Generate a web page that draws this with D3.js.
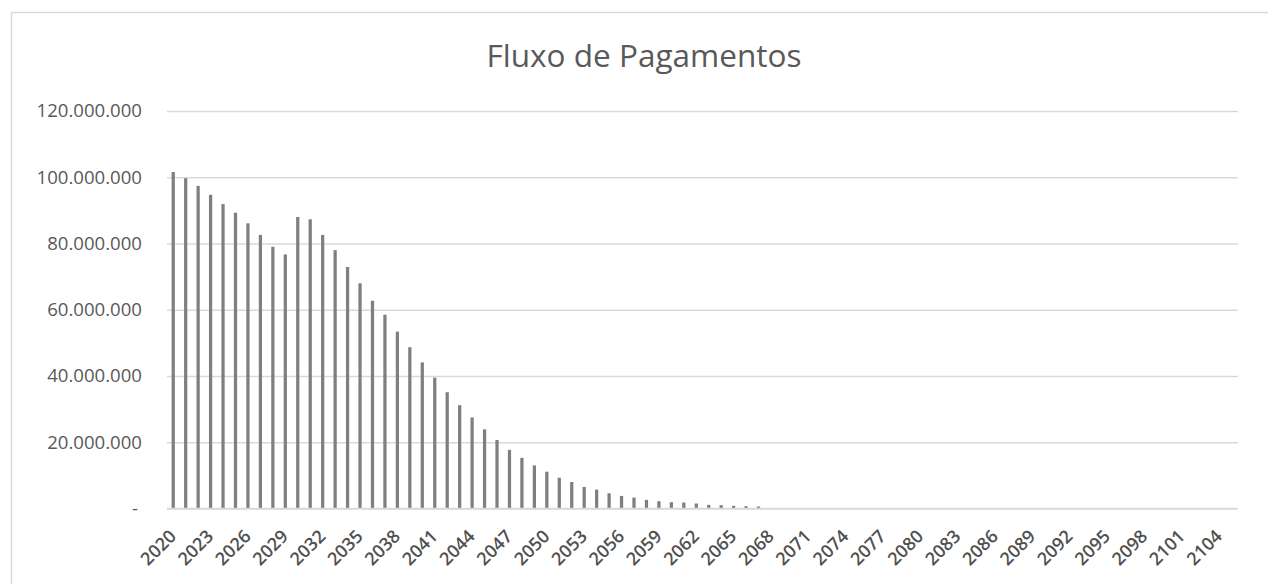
<!DOCTYPE html>
<html>
<head>
<meta charset="utf-8">
<script src="https://cdn.jsdelivr.net/npm/d3@7"></script>
<style>
  html, body { margin: 0; padding: 0; background: #fff; }
  svg { display: block; }
</style>
</head>
<body>
<svg id="chart" width="1268" height="584"></svg>
<script>
// ---- Data ----
const title = "Fluxo de Pagamentos";
const years = d3.range(2020, 2106).map(String); // 2020 … 2105
const payments = [
  101600000, 99700000, 97400000, 94700000, 91900000, 89300000, 86100000, 82600000, 79000000, 76700000, // 2020-2029
  88000000, 87300000, 82600000, 78000000, 72900000, 68000000, 62700000, 58500000, 53400000, 48700000, // 2030-2039
  44100000, 39500000, 35100000, 31200000, 27500000, 23900000, 20700000, 17700000, 15300000, 13000000, // 2040-2049
  11100000, 9300000, 8000000, 6500000, 5700000, 4600000, 3800000, 3300000, 2600000, 2200000,          // 2050-2059
  1900000, 1800000, 1500000, 1100000, 1000000, 800000, 700000, 600000, 0, 0,                          // 2060-2069
  0, 0, 0, 0, 0, 0, 0, 0, 0, 0,                                                                       // 2070-2079
  0, 0, 0, 0, 0, 0, 0, 0, 0, 0,                                                                       // 2080-2089
  0, 0, 0, 0, 0, 0, 0, 0, 0, 0,                                                                       // 2090-2099
  0, 0, 0, 0, 0, 0                                                                                    // 2100-2105
];
const yTicks = [0, 20000000, 40000000, 60000000, 80000000, 100000000, 120000000];
const xTickLabels = years.filter((d, i) => i % 3 === 0);

// ---- Layout ----
const svg = d3.select("#chart");
const plot = { left: 167, right: 1238, top: 111, bottom: 508.5 };
const fontFamily = "'Open Sans', 'Noto Sans', sans-serif";
const textColor = "#595959";
const gridColor = "#d9d9d9";

// chart border
svg.append("rect")
  .attr("x", 11.5).attr("y", 12.5)
  .attr("width", 1300).attr("height", 620)
  .attr("fill", "#fff")
  .attr("stroke", gridColor).attr("stroke-width", 1.5);

const x = d3.scaleBand()
  .domain(years)
  .range([plot.left, plot.right])
  .paddingInner(0.74)
  .paddingOuter(0.37);

const y = d3.scaleLinear()
  .domain([0, 120000000])
  .range([plot.bottom, plot.top]);

const ptBR = d3.formatLocale({ decimal: ",", thousands: ".", grouping: [3], currency: ["R$", ""] });
const fmt = v => v === 0 ? "-" : ptBR.format(",.0f")(v);

// gridlines + y labels via axis
const yAxis = d3.axisLeft(y)
  .tickValues(yTicks)
  .tickFormat(fmt)
  .tickSize(-(plot.right - plot.left))
  .tickPadding(25);

const gy = svg.append("g")
  .attr("transform", `translate(${plot.left},0)`)
  .call(yAxis);
gy.select(".domain").remove();
gy.selectAll(".tick line")
  .attr("stroke", gridColor).attr("stroke-width", 1.5);
gy.selectAll(".tick text")
  .attr("fill", textColor)
  .style("font-family", fontFamily)
  .style("font-size", "18.6px");
gy.selectAll(".tick").filter(d => d === 0).select("text").attr("dx", "-4");

// bars
svg.append("g")
  .selectAll("rect")
  .data(years.map((yr, i) => ({ yr, v: payments[i] })))
  .join("rect")
  .attr("x", d => x(d.yr))
  .attr("width", x.bandwidth())
  .attr("y", d => y(d.v))
  .attr("height", d => y(0) - y(d.v))
  .attr("fill", "#7f7f7f");

// x axis
const xAxis = d3.axisBottom(x)
  .tickValues(xTickLabels)
  .tickSize(0)
  .tickPadding(0);
const gx = svg.append("g")
  .attr("transform", `translate(0,${plot.bottom})`)
  .call(xAxis);
gx.select(".domain")
  .attr("stroke", gridColor).attr("stroke-width", 1.5)
  .attr("d", `M${plot.left},0H${plot.right}`);
gx.selectAll(".tick text")
  .attr("fill", "#505050")
  .style("font-family", fontFamily)
  .style("font-size", "18px")
  .style("font-weight", "600")
  .attr("text-anchor", "end")
  .attr("dy", "0")
  .attr("y", 0)
  .attr("transform", "translate(4,29) rotate(-45)");

// title
const t = svg.append("text")
  .attr("x", 644)
  .attr("y", 67)
  .attr("text-anchor", "middle")
  .attr("fill", textColor)
  .style("font-family", fontFamily)
  .style("font-size", "25px")
  .text(title);
// scale title font so its width matches the reference (~315px)
const w = t.node().getComputedTextLength();
t.style("font-size", (25 * 315 / w).toFixed(2) + "px");
</script>
</body>
</html>
